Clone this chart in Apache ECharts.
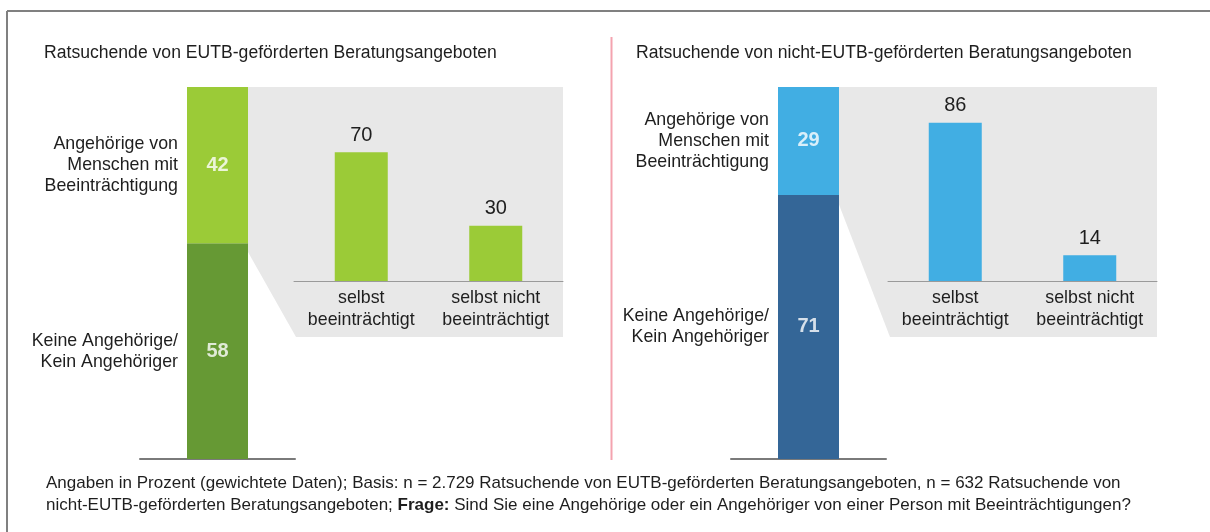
<!DOCTYPE html>
<html>
<head>
<meta charset="utf-8">
<script src="https://cdn.jsdelivr.net/npm/echarts@6/dist/echarts.min.js"></script>
<style>
  html, body { margin: 0; padding: 0; background: #fff; }
  #chart { width: 1210px; height: 532px; }
</style>
</head>
<body>
<div id="chart"></div>
<script>
  // Anteile gesamt (gestapelte Säule, von unten nach oben)
  const segmentNames = ['Keine Angehörige/\nKein Angehöriger', 'Angehörige von\nMenschen mit\nBeeinträchtigung'];
  const eutbShares = [58, 42];
  const nonEutbShares = [71, 29];

  // Aufschlüsselung der Angehörigen
  const subCategories = ['selbst\nbeeinträchtigt', 'selbst nicht\nbeeinträchtigt'];
  const eutbSub = [70, 30];
  const nonEutbSub = [86, 14];

  const panelTitles = [
    'Ratsuchende von EUTB-geförderten Beratungsangeboten',
    'Ratsuchende von nicht-EUTB-geförderten Beratungsangeboten'
  ];
  const footnote = 'Angaben in Prozent (gewichtete Daten); Basis: n = 2.729 Ratsuchende von EUTB-geförderten Beratungsangeboten, n = 632 Ratsuchende von\n' +
    'nicht-EUTB-geförderten Beratungsangeboten; {b|Frage:} Sind Sie eine Angehörige oder ein Angehöriger von einer Person mit Beeinträchtigungen?';

  const FONT = 'Arial, "Liberation Sans", sans-serif';
  const TEXT = '#1e1e1e';

  // layout of the two panels
  const panels = [
    { shares: eutbShares, sub: eutbSub, colors: ['#669934', '#9BCB37'], titleX: 44, stackLeft: 140, innerLeft: 294 },
    { shares: nonEutbShares, sub: nonEutbSub, colors: ['#346697', '#41AEE3'], titleX: 636, stackLeft: 731, innerLeft: 888 }
  ];
  const stackWidth = 155, barW = 61;
  const innerWidth = 269, innerTop = 97, innerHeight = 184;

  const chart = echarts.init(document.getElementById('chart'));

  const grid = [], xAxis = [], yAxis = [], series = [], title = [];

  panels.forEach((p, i) => {
    const g0 = i * 2, g1 = i * 2 + 1;
    grid.push({ left: p.stackLeft, top: 87, width: stackWidth, height: 372 });
    grid.push({ left: p.innerLeft, top: innerTop, width: innerWidth, height: innerHeight });

    xAxis.push({
      gridIndex: g0, type: 'category', data: ['gesamt'],
      axisLine: { lineStyle: { color: '#7a7a7a', width: 2 } },
      axisTick: { show: false }, axisLabel: { show: false }
    });
    xAxis.push({
      gridIndex: g1, type: 'category', data: subCategories,
      axisLine: { lineStyle: { color: '#9a9a9a', width: 1 } },
      axisTick: { show: false },
      axisLabel: { interval: 0, color: TEXT, fontFamily: FONT, fontSize: 17.8, lineHeight: 22, margin: 6 }
    });
    yAxis.push({ gridIndex: g0, type: 'value', min: 0, max: 100, show: false });
    yAxis.push({ gridIndex: g1, type: 'value', min: 0, max: 100, show: false });

    // stacked segments with names on the left
    let base = 0;
    const mids = [];
    p.shares.forEach((v, k) => {
      series.push({
        type: 'bar', name: segmentNames[k], stack: 'total' + i,
        xAxisIndex: g0, yAxisIndex: g0, barWidth: barW,
        data: [v],
        itemStyle: { color: p.colors[k] },
        label: {
          show: true, position: 'left', distance: 9,
          formatter: segmentNames[k],
          color: TEXT, fontFamily: FONT, fontSize: 17.8, lineHeight: 21
        },
        silent: true, animation: false
      });
      mids.push({ value: [0, base + v / 2], share: v });
      base += v;
    });
    // value labels in the middle of each segment
    series.push({
      type: 'scatter', xAxisIndex: g0, yAxisIndex: g0, symbolSize: 0,
      data: mids, z: 5,
      label: {
        show: true, position: 'inside',
        formatter: (d) => d.data.share,
        color: '#fff', fontFamily: FONT, fontWeight: 'bold', fontSize: 20
      },
      silent: true, animation: false
    });
    // detail bars
    series.push({
      type: 'bar', xAxisIndex: g1, yAxisIndex: g1, barWidth: 53,
      data: p.sub,
      itemStyle: { color: p.colors[1] },
      label: { show: true, position: 'top', distance: 7, color: TEXT, fontFamily: FONT, fontSize: 20 },
      silent: true, animation: false
    });

    title.push({
      text: panelTitles[i], left: p.titleX, top: 43, padding: 0,
      textStyle: { color: TEXT, fontFamily: FONT, fontSize: 17.6, fontWeight: 'normal', lineHeight: 20 }
    });
  });

  title.push({
    text: footnote, left: 46, top: 472, padding: 0,
    textStyle: {
      color: TEXT, fontFamily: FONT, fontSize: 17, fontWeight: 'normal', lineHeight: 22,
      rich: { b: { fontFamily: FONT, fontSize: 17, fontWeight: 'bold', color: TEXT, lineHeight: 22 } }
    }
  });

  chart.setOption({ animation: false, title, grid, xAxis, yAxis, series });

  // grey "zoom" shapes, frame and divider
  const graphic = [
    { type: 'line', shape: { x1: 7, y1: 11, x2: 1210, y2: 11 }, style: { stroke: '#808080', lineWidth: 2 } },
    { type: 'line', shape: { x1: 7, y1: 11, x2: 7, y2: 532 }, style: { stroke: '#808080', lineWidth: 2 } },
    { type: 'line', shape: { x1: 611.5, y1: 37, x2: 611.5, y2: 460 }, style: { stroke: '#F4A3AF', lineWidth: 2 } }
  ];
  panels.forEach((p, i) => {
    const split = chart.convertToPixel({ gridIndex: i * 2 }, [0, p.shares[0]]);
    const barRight = split[0] + barW / 2;
    const innerRight = p.innerLeft + innerWidth;
    graphic.push({
      type: 'polygon', z: -10,
      shape: { points: [[barRight - 1, 87], [innerRight, 87], [innerRight, 337], [p.innerLeft + 2, 337], [barRight - 1, split[1] + 7]] },
      style: { fill: '#E8E8E8' }
    });
  });
  chart.setOption({ graphic });
</script>
</body>
</html>
